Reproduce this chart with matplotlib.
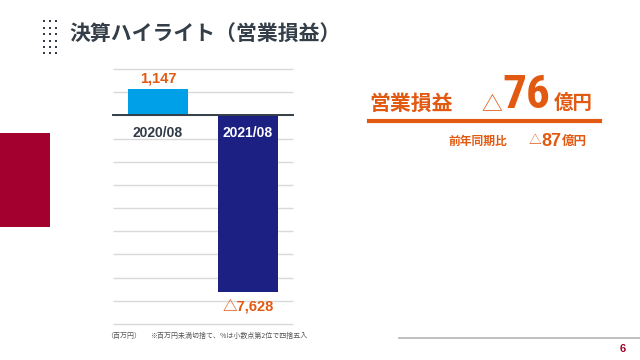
import matplotlib
matplotlib.use("Agg")
import matplotlib.pyplot as plt
from matplotlib.patches import Rectangle
from matplotlib.lines import Line2D
from matplotlib import font_manager as fm

plt.rcParams['font.family'] = ['Noto Sans CJK JP', 'DejaVu Sans']

# ---- data ----
categories = ["2020/08", "2021/08"]
values = [1147, -7628]
value_labels = ["1,147", "△7,628"]
bar_colors = ["#00A0E9", "#1D2083"]
cat_label_colors = ["#2F3A45", "#FFFFFF"]
yticks = list(range(-9000, 2001, 1000))

title = "決算ハイライト（営業損益）"
kpi_label = "営業損益"
kpi_value = "76"
kpi_unit = "億円"
yoy_label = "前年同期比"
yoy_value = "87"
unit_note = "（百万円）"
footnote = "※百万円未満切捨て、%は小数点第2位で四捨五入"
page_no = "6"

ORANGE = "#E25A12"
DARK = "#333E48"
W, H = 640, 360

# pick a bold condensed font file for the big KPI figure
big_prop = fm.FontProperties(family="DejaVu Sans", weight="bold")
cands = ["Liberation Sans Narrow", "Arial Narrow", "Archivo Narrow",
         "Roboto Condensed", "IBM Plex Sans Condensed", "Open Sans Condensed",
         "Oswald"]
found = False
for cand in cands:
    entries = [f for f in fm.fontManager.ttflist if f.name == cand]
    bold = [f for f in entries
            if isinstance(f.weight, int) and 700 <= f.weight <= 800
            and f.style == "normal"]
    if not bold:
        bold = [f for f in entries if f.weight in ("bold", "heavy")
                and f.style == "normal"]
    if bold:
        bold.sort(key=lambda f: abs((f.weight if isinstance(f.weight, int) else 700) - 700))
        big_prop = fm.FontProperties(fname=bold[0].fname)
        found = True
        break

fig = plt.figure(figsize=(6.4, 3.6), dpi=100)
fig.patch.set_facecolor("white")

def fx(x):
    return x / W

def fy(y):
    return 1 - y / H

# left red block
fig.add_artist(Rectangle((0, fy(227)), fx(50), (227 - 133) / H,
                         transform=fig.transFigure, facecolor="#A3002F",
                         edgecolor="none"))

# dot grid near title
for cx in [44, 50, 56]:
    for cy in [21, 27.5, 34, 40.5, 47, 53]:
        fig.add_artist(Rectangle((fx(cx - 1), fy(cy + 1)), fx(2), 2 / H,
                                 transform=fig.transFigure,
                                 facecolor="#333E48", edgecolor="none"))

# title
fig.text(fx(69), fy(33), title, fontsize=15, fontweight="bold",
         color=DARK, va="center", ha="left")

# ---- chart ----
ax = fig.add_axes([fx(113), fy(324), 180 / W, 255 / H])
x = list(range(len(categories)))
ax.hlines(yticks, -0.5, 1.5, colors="#D9D9D9", linewidth=1.0,
          clip_on=False, zorder=0)
ax.bar(x, values, width=0.667, color=bar_colors, zorder=2)
ax.axhline(0, color="#333E48", linewidth=1.4, zorder=3, clip_on=False)
ax.set_xlim(-0.5, 1.5)
ax.set_ylim(-9000, 2000)
ax.axis("off")

num_font = ['Liberation Sans', 'Noto Sans CJK JP']
for i, (v, lab) in enumerate(zip(values, value_labels)):
    if v >= 0:
        ax.annotate(lab, (i, v), xytext=(0, 2), textcoords="offset points",
                    ha="center", va="bottom", fontsize=10.5,
                    fontweight="bold", color=ORANGE, family=num_font)
    else:
        ax.annotate(lab, (i, v), xytext=(0, -5), textcoords="offset points",
                    ha="center", va="top", fontsize=10.5,
                    fontweight="bold", color=ORANGE, family=num_font)
for i, (c, col) in enumerate(zip(categories, cat_label_colors)):
    ax.text(i, -780, c, ha="center", va="center", fontsize=10,
            fontweight="bold", color=col, family=num_font, zorder=4)

# footnotes
fig.text(fx(106), fy(336), unit_note, fontsize=5, color="#555555",
         va="center", ha="left")
fig.text(fx(150), fy(336), footnote, fontsize=5, color="#555555",
         va="center", ha="left")

# ---- KPI block ----
fig.text(fx(369), fy(103), kpi_label, fontsize=15, fontweight="bold",
         color=ORANGE, va="center", ha="left")
fig.text(fx(481), fy(104), "△", fontsize=15, color=ORANGE,
         va="center", ha="left")
big_size = 34 if found else 28
fig.text(fx(502), fy(108), kpi_value, fontproperties=big_prop,
         fontsize=big_size, color=ORANGE, va="baseline", ha="left")
fig.text(fx(554), fy(103), kpi_unit, fontsize=14, fontweight="bold",
         color=ORANGE, va="center", ha="left")
fig.add_artist(Line2D([fx(369), fx(600)], [fy(121), fy(121)],
                      transform=fig.transFigure, color=ORANGE, linewidth=3))

fig.text(fx(448), fy(141), yoy_label, fontsize=8.5, fontweight="bold",
         color=ORANGE, va="center", ha="left")
fig.text(fx(529), fy(141), "△", fontsize=9, color=ORANGE,
         va="center", ha="left")
fig.text(fx(541), fy(146), yoy_value, fontsize=13, fontweight="bold",
         color=ORANGE, va="baseline", ha="left", family=num_font)
fig.text(fx(562), fy(141), kpi_unit, fontsize=9, fontweight="bold",
         color=ORANGE, va="center", ha="left")

# bottom line and page number
fig.add_artist(Line2D([fx(399), fx(640)], [fy(338), fy(338)],
                      transform=fig.transFigure, color="#BBBBBB",
                      linewidth=1.3))
fig.text(fx(623), fy(349), page_no, fontsize=8, fontweight="bold",
         color="#A0002A", va="center", ha="center", family=num_font)

fig.savefig("out.png", dpi=100, facecolor="white")
